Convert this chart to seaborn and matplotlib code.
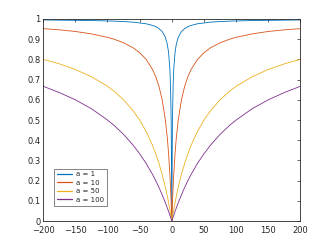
import numpy as np
import pandas as pd
import matplotlib
matplotlib.use("Agg")
import matplotlib.pyplot as plt
import seaborn as sns

# values (right half; the curves are symmetric about x = 0)
x_half = [0, 1, 2, 3, 5, 7, 10, 15, 20, 25, 30, 40, 50, 60, 75, 90, 100, 125, 150, 175, 200]
y_a1 = [0, 0.5, 0.667, 0.75, 0.833, 0.875, 0.909, 0.938, 0.952, 0.962, 0.968, 0.976, 0.98,
        0.984, 0.987, 0.989, 0.99, 0.992, 0.993, 0.994, 0.995]
y_a10 = [0, 0.091, 0.167, 0.231, 0.333, 0.412, 0.5, 0.6, 0.667, 0.714, 0.75, 0.8, 0.833,
         0.857, 0.882, 0.9, 0.909, 0.926, 0.938, 0.946, 0.952]
y_a50 = [0, 0.02, 0.038, 0.057, 0.091, 0.123, 0.167, 0.231, 0.286, 0.333, 0.375, 0.444, 0.5,
         0.545, 0.6, 0.643, 0.667, 0.714, 0.75, 0.778, 0.8]
y_a100 = [0, 0.01, 0.02, 0.029, 0.048, 0.065, 0.091, 0.13, 0.167, 0.2, 0.231, 0.286, 0.333,
          0.375, 0.429, 0.474, 0.5, 0.556, 0.6, 0.636, 0.667]
labels = ["a = 1", "a = 10", "a = 50", "a = 100"]
colors = ["#0072BD", "#D95319", "#EDB120", "#7E2F8E"]

xticks = [-200, -150, -100, -50, 0, 50, 100, 150, 200]
yticks = [0, 0.1, 0.2, 0.3, 0.4, 0.5, 0.6, 0.7, 0.8, 0.9, 1]
ytick_labels = ["0", "0.1", "0.2", "0.3", "0.4", "0.5", "0.6", "0.7", "0.8", "0.9", "1"]

sns.set_style("white")
plt.rcParams["font.family"] = ["DejaVu Sans"]

# build long table, mirror the half to the negative side
x_full = [-v for v in x_half[::-1]] + x_half[1:]
rows = []
for lab, ys in zip(labels, [y_a1, y_a10, y_a50, y_a100]):
    y_full = ys[::-1] + ys[1:]
    for xv, yv in zip(x_full, y_full):
        rows.append({"x": xv, "y": yv, "series": lab})
df = pd.DataFrame(rows)

fig = plt.figure(figsize=(3.32, 2.49), dpi=100)
ax = fig.add_axes([0.13, 0.112, 0.775, 0.812])
sns.lineplot(data=df, x="x", y="y", hue="series", hue_order=labels,
             palette=colors, linewidth=0.6, ax=ax, sort=False, estimator=None)

ax.set_xlim(-200, 200)
ax.set_ylim(0, 1)
ax.set_xticks(xticks)
ax.set_yticks(yticks)
ax.set_yticklabels(ytick_labels)
ax.set_xlabel("")
ax.set_ylabel("")
ax.tick_params(direction="in", length=2.5, width=0.5, colors="#262626",
               labelsize=6, top=True, right=True, pad=2)
ax.tick_params(axis="x", pad=3.5)
for s in ax.spines.values():
    s.set_visible(True)
    s.set_linewidth(0.6)
    s.set_color("#262626")

leg = ax.legend(loc="lower left", bbox_to_anchor=(0.03, 0.06), fontsize=5,
                frameon=True, fancybox=False, handlelength=2.2,
                borderpad=0.4, labelspacing=0.35, handletextpad=0.5)
leg.get_frame().set_edgecolor("#262626")
leg.get_frame().set_linewidth(0.5)
for line in leg.get_lines():
    line.set_linewidth(0.9)

fig.savefig("out.png", dpi=100)
